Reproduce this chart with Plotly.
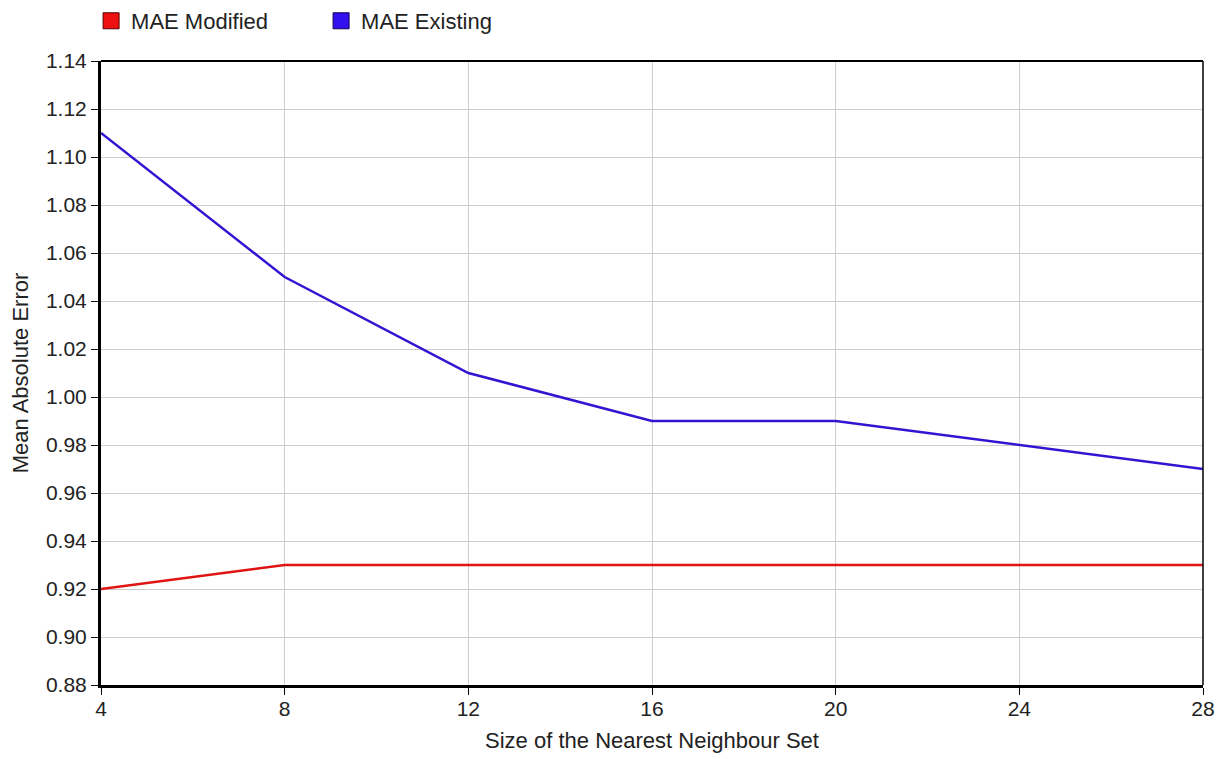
import plotly.graph_objects as go

neighbour_sizes = [4, 8, 12, 16, 20, 24, 28]
mae_modified = [0.92, 0.93, 0.93, 0.93, 0.93, 0.93, 0.93]
mae_existing = [1.11, 1.05, 1.01, 0.99, 0.99, 0.98, 0.97]
y_ticks = [0.88, 0.90, 0.92, 0.94, 0.96, 0.98, 1.00, 1.02, 1.04, 1.06, 1.08, 1.10, 1.12, 1.14]
x_ticks = [4, 8, 12, 16, 20, 24, 28]

RED = "#e01414"
BLUE = "#3414d2"
FONT = "Liberation Sans, Arial, sans-serif"

fig = go.Figure()
fig.add_trace(go.Scatter(x=neighbour_sizes, y=mae_modified, mode="lines",
                         line=dict(color=RED, width=2.5), showlegend=False))
fig.add_trace(go.Scatter(x=neighbour_sizes, y=mae_existing, mode="lines",
                         line=dict(color=BLUE, width=2.5), showlegend=False))
# legend entries with square swatches
fig.add_trace(go.Scatter(x=[None], y=[None], mode="markers", name="MAE Modified",
                         marker=dict(symbol="square", size=16, color="#ee1111",
                                     line=dict(color="#550000", width=1))))
fig.add_trace(go.Scatter(x=[None], y=[None], mode="markers", name="MAE Existing",
                         marker=dict(symbol="square", size=16, color="#3311ee",
                                     line=dict(color="#110055", width=1))))

fig.update_layout(
    width=1228, height=759,
    margin=dict(l=93, r=33, t=53, b=82, autoexpand=False),
    paper_bgcolor="white", plot_bgcolor="white",
    font=dict(family=FONT, size=21, color="#222222"),
    legend=dict(orientation="h", x=-0.009, xanchor="left",
                yref="paper", y=1.0978, yanchor="top",
                font=dict(size=22, color="#222222"),
                itemsizing="trace", entrywidth=185, tracegroupgap=0,
                bgcolor="rgba(0,0,0,0)"),
    showlegend=True,
)

fig.update_xaxes(range=[4, 28], tickvals=x_ticks, ticktext=[str(v) for v in x_ticks],
                 showgrid=True, gridcolor="#cdcdcd", gridwidth=1,
                 showline=True, linecolor="black", linewidth=3, mirror=False,
                 ticks="outside", ticklen=7, tickcolor="black", tickwidth=1,
                 ticklabelstandoff=-4,
                 zeroline=False,
                 title=dict(text="Size of the Nearest Neighbour Set", font=dict(size=22), standoff=14),
                 tickfont=dict(size=21))
fig.update_yaxes(range=[0.88, 1.14], tickvals=y_ticks,
                 ticktext=[f"{v:.2f}" for v in y_ticks],
                 showgrid=True, gridcolor="#cdcdcd", gridwidth=1,
                 showline=True, linecolor="black", linewidth=3, mirror=False,
                 ticks="outside", ticklen=7, tickcolor="black", tickwidth=1,
                 zeroline=False,
                 title=dict(text="Mean Absolute Error", font=dict(size=22), standoff=13),
                 tickfont=dict(size=21))

# thin top and right frame lines
fig.add_shape(type="line", xref="paper", yref="paper", x0=0, x1=1, y0=1, y1=1,
              line=dict(color="black", width=2))
fig.add_shape(type="line", xref="paper", yref="paper", x0=1, x1=1, y0=0, y1=1,
              line=dict(color="black", width=1.5))

fig.write_html("out.html")
